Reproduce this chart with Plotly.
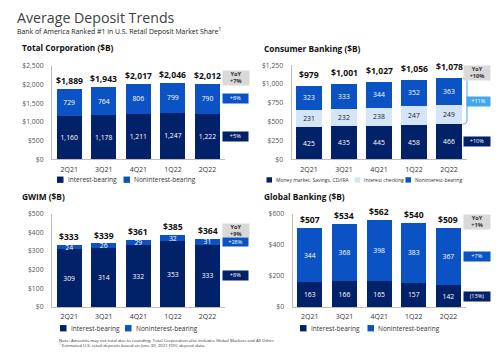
import plotly.graph_objects as go

# ---------------- data ----------------
quarters = ["2Q21", "3Q21", "4Q21", "1Q22", "2Q22"]

tc_interest = [1160, 1178, 1211, 1247, 1222]
tc_nonint = [729, 764, 806, 799, 790]
tc_total = [1889, 1943, 2017, 2046, 2012]

cb_mm = [425, 435, 445, 458, 466]
cb_check = [231, 232, 238, 247, 249]
cb_nonint = [323, 333, 344, 352, 363]
cb_total = [979, 1001, 1027, 1056, 1078]

gw_interest = [309, 314, 332, 353, 333]
gw_nonint = [24, 26, 29, 32, 31]
gw_total = [333, 339, 361, 385, 364]

gb_interest = [163, 166, 165, 157, 142]
gb_nonint = [344, 368, 398, 383, 367]
gb_total = [507, 534, 562, 540, 509]

tc_yoy = ["+7%", "+8%", "+5%"]          # total, noninterest, interest
cb_yoy = ["+10%", "+11%", "+10%"]       # total, checking+nonint, MM
gw_yoy = ["+9%", "+28%", "+8%"]
gb_yoy = ["+1%", "+7%", "(13%)"]

NAVY = "#012169"
BLUE = "#0B52C4"
LIGHT = "#D3E5F6"
SKY = "#43A6F0"
GRAY_BOX = "#D9D9D9"
FONT = "Open Sans"

W, H = 500, 352


def px(x):
    return x / W


def py(y):
    return 1 - y / H


fig = go.Figure()

# ---------------- panels ----------------
panels = [
    dict(ax="", dom_x=(51.9, 224.8), dom_y=(158.3, 62.5), rng=2500, dtick=500,
         series=[(tc_interest, NAVY, "Interest-bearing"), (tc_nonint, BLUE, "Noninterest-bearing")],
         total=tc_total, tshift=0),
    dict(ax="2", dom_x=(291.5, 466.5), dom_y=(158.3, 61.7), rng=1250, dtick=250,
         series=[(cb_mm, NAVY, "Money market, Savings, CD/IRA"), (cb_check, LIGHT, "Interest checking"),
                 (cb_nonint, BLUE, "Noninterest-bearing")],
         total=cb_total, tshift=3),
    dict(ax="3", dom_x=(51.9, 224.8), dom_y=(310, 214), rng=500, dtick=100,
         series=[(gw_interest, NAVY, "Interest-bearing"), (gw_nonint, BLUE, "Noninterest-bearing")],
         total=gw_total, tshift=0),
    dict(ax="4", dom_x=(292.5, 465.8), dom_y=(310, 214.3), rng=600, dtick=200,
         series=[(gb_interest, NAVY, "Interest-bearing"), (gb_nonint, BLUE, "Noninterest-bearing")],
         total=gb_total, tshift=0),
]

annotations = []
shapes = []

for p in panels:
    xa = "x" + p["ax"]
    ya = "y" + p["ax"]
    for vals, col, name in p["series"]:
        fig.add_trace(go.Bar(
            x=quarters, y=vals, name=name, xaxis=xa, yaxis=ya,
            marker=dict(color=col, line=dict(width=0)),
            text=vals, texttemplate="%{y:,}", textposition="inside",
            insidetextanchor="middle", textangle=0,
            textfont=dict(color="#1a1a1a" if col == LIGHT else "white", size=6.8, family=FONT),
            showlegend=False, hoverinfo="skip",
        ))
    for q, t in zip(quarters, p["total"]):
        annotations.append(dict(
            x=q, y=t, xref=xa, yref=ya, text=f"<b>${t:,}</b>", showarrow=False,
            yanchor="bottom", yshift=p["tshift"],
            font=dict(size=8.6, color="#111", family=FONT)))
    key = p["ax"]
    tv = list(range(0, p["rng"] + 1, p["dtick"]))
    fig.layout["xaxis" + key] = dict(
        domain=[px(p["dom_x"][0]), px(p["dom_x"][1])], anchor=ya,
        range=[-0.5, 4.5], showline=True, linecolor="#BDBDBD", linewidth=1,
        showgrid=False, zeroline=False, ticks="outside", ticklen=3,
        tickcolor="rgba(0,0,0,0)", tickfont=dict(size=7, color="#333", family=FONT),
        fixedrange=True)
    fig.layout["yaxis" + key] = dict(
        domain=[py(p["dom_y"][0]), py(p["dom_y"][1])], anchor=xa,
        range=[0, p["rng"]], tickmode="array", tickvals=tv,
        ticktext=[f"${v:,}" for v in tv], showline=True, linecolor="#BDBDBD",
        linewidth=1, showgrid=False, zeroline=False, ticks="outside", ticklen=6,
        tickcolor="rgba(0,0,0,0)", tickfont=dict(size=6.8, color="#555", family=FONT),
        fixedrange=True)


def box(xc, y, yref, text, bg, w=25, h=8.5, fc="white", size=5.6, yanchor="middle"):
    annotations.append(dict(
        x=px(xc), xref="paper", y=y, yref=yref, text=text, showarrow=False,
        xanchor="center", yanchor=yanchor, width=w, height=h, bgcolor=bg,
        borderpad=0, font=dict(size=size, color=fc, family=FONT)))


# YoY gray boxes
box(235.5, py(75), "paper", f"<b>YoY<br>{tc_yoy[0]}</b>", GRAY_BOX, w=25.5, h=13.5, fc="#333", size=5.6)
box(477, py(69.5), "paper", f"<b>YoY<br>{cb_yoy[0]}</b>", GRAY_BOX, w=26, h=13.5, fc="#333", size=5.6)
box(235.5, py(231.8), "paper", f"<b>YoY<br>{gw_yoy[0]}</b>", GRAY_BOX, w=25.5, h=13, fc="#333", size=5.6)
box(477, py(222.5), "paper", f"<b>YoY<br>{gb_yoy[0]}</b>", GRAY_BOX, w=26, h=13.5, fc="#333", size=5.6)

# change boxes at segment midpoints of last bar
box(235.5, tc_interest[-1] + tc_nonint[-1] / 2, "y", tc_yoy[1], BLUE)
box(235.5, tc_interest[-1] / 2, "y", tc_yoy[2], NAVY)
box(478.5, cb_mm[-1] + (cb_check[-1] + cb_nonint[-1]) / 2, "y2", cb_yoy[1], SKY, w=23)
box(477, cb_mm[-1] / 2, "y2", cb_yoy[2], NAVY, w=26)
box(235.5, gw_interest[-1] + gw_nonint[-1] / 2, "y3", gw_yoy[1], BLUE, h=8)
box(235.5, gw_interest[-1] / 2, "y3", gw_yoy[2], NAVY)
box(477, gb_interest[-1] + gb_nonint[-1] / 2, "y4", gb_yoy[1], BLUE, w=26)
box(477, gb_interest[-1] / 2, "y4", gb_yoy[2], NAVY, w=26)

# bracket for consumer banking
ytop, ybot = cb_total[-1], cb_mm[-1]
r = 50
x0, x1 = px(462.5), px(467)
shapes.append(dict(
    type="path", xref="paper", yref="y2",
    path=f"M {x0},{ytop} Q {x1},{ytop} {x1},{ytop - r} L {x1},{ybot + r} Q {x1},{ybot} {x0},{ybot}",
    line=dict(color=SKY, width=1)))

# ---------------- titles ----------------
annotations.append(dict(x=px(15), y=py(13), xref="paper", yref="paper", xanchor="left",
                        yanchor="middle", showarrow=False, text="Average Deposit Trends",
                        font=dict(size=14.2, color="#404040", family=FONT)))
annotations.append(dict(x=px(15), y=py(26.7), xref="paper", yref="paper", xanchor="left",
                        yanchor="middle", showarrow=False,
                        text="Bank of America Ranked #1 in U.S. Retail Deposit Market Share<sup>1</sup>",
                        font=dict(size=6.9, color="#222", family=FONT)))
for tx, x, y in [("Total Corporation ($B)", 20, 43.8), ("Consumer Banking ($B)", 262, 44.5),
                 ("GWIM ($B)", 20, 196.7), ("Global Banking ($B)", 262, 196.7)]:
    annotations.append(dict(x=px(x), y=py(y), xref="paper", yref="paper", xanchor="left",
                            yanchor="middle", showarrow=False, text=f"<b>{tx}</b>",
                            font=dict(size=8.3, color="#111", family=FONT)))

# ---------------- manual legends ----------------
def legend_item(xs, yc, color, label, size=6.5, sq=6.5):
    shapes.append(dict(type="rect", xref="paper", yref="paper",
                       x0=px(xs), x1=px(xs + sq), y0=py(yc + sq / 2), y1=py(yc - sq / 2),
                       fillcolor=color, line=dict(width=0)))
    annotations.append(dict(x=px(xs + sq + 2), y=py(yc), xref="paper", yref="paper",
                            xanchor="left", yanchor="middle", showarrow=False, text=label,
                            font=dict(size=size, color="#333", family=FONT)))


legend_item(57, 179.3, NAVY, "Interest-bearing")
legend_item(123.5, 179.3, BLUE, "Noninterest-bearing")
legend_item(266.5, 179.5, NAVY, "Money market, Savings, CD/IRA", size=5.0, sq=5.5)
legend_item(354.5, 179.5, LIGHT, "Interest checking", size=5.0, sq=5.5)
legend_item(405.5, 179.5, BLUE, "Noninterest-bearing", size=5.0, sq=5.5)
legend_item(60, 331.7, NAVY, "Interest-bearing")
legend_item(125, 331.7, BLUE, "Noninterest-bearing")
legend_item(300, 331.7, NAVY, "Interest-bearing")
legend_item(367.5, 331.7, BLUE, "Noninterest-bearing")

# footnotes
annotations.append(dict(x=px(57), y=py(343.6), xref="paper", yref="paper", xanchor="left",
                        yanchor="middle", showarrow=False,
                        text="Note: Amounts may not total due to rounding. Total Corporation also includes Global Markets and All Other.",
                        font=dict(size=4.3, color="#333", family=FONT)))
annotations.append(dict(x=px(57), y=py(349.2), xref="paper", yref="paper", xanchor="left",
                        yanchor="middle", showarrow=False,
                        text="<sup>1</sup> Estimated U.S. retail deposits based on June 30, 2021 FDIC deposit data.",
                        font=dict(size=4.3, color="#333", family=FONT)))

fig.update_layout(
    width=W, height=H, margin=dict(l=0, r=0, t=0, b=0),
    paper_bgcolor="white", plot_bgcolor="white",
    barmode="stack", bargap=0.277, showlegend=False,
    uniformtext=dict(minsize=6.8, mode="show"),
    annotations=annotations, shapes=shapes,
    font=dict(family=FONT),
)

fig.write_html("out.html", config={"displayModeBar": False})
